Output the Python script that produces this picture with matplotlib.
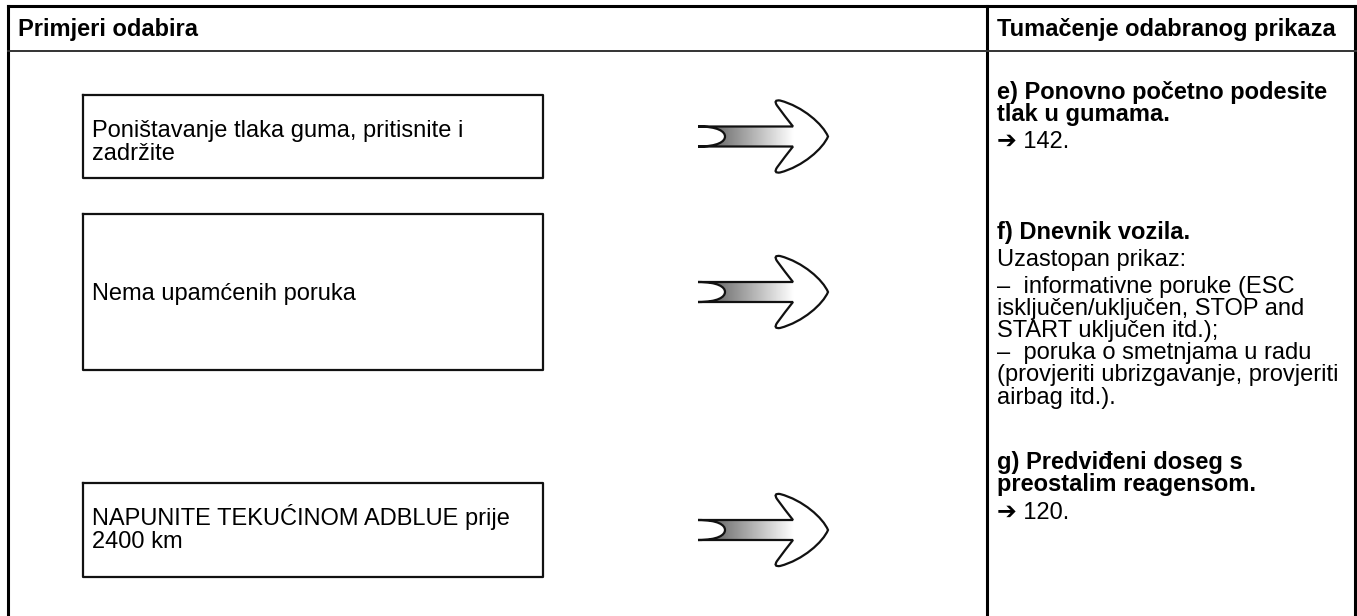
import numpy as np
import matplotlib
matplotlib.use('Agg')
from matplotlib import pyplot as plt
from matplotlib.path import Path
from matplotlib.patches import PathPatch

# tekstovi tablice
headers = ['Primjeri odabira', 'Tumačenje odabranog prikaza']

examples = [
    ['Poništavanje tlaka guma, pritisnite i', 'zadržite'],
    ['Nema upamćenih poruka'],
    ['NAPUNITE TEKUĆINOM ADBLUE prije', '2400 km'],
]

notes = [
    ('e) Ponovno početno podesite', True),
    ('tlak u gumama.', True),
    ('➔ 142.', False),
    ('f) Dnevnik vozila.', True),
    ('Uzastopan prikaz:', False),
    ('–  informativne poruke (ESC', False),
    ('isključen/uključen, STOP and', False),
    ('START uključen itd.);', False),
    ('–  poruka o smetnjama u radu', False),
    ('(provjeriti ubrizgavanje, provjeriti', False),
    ('airbag itd.).', False),
    ('g) Predviđeni doseg s', True),
    ('preostalim reagensom.', True),
    ('➔ 120.', False),
]

# mise en page (pixels)
W, H = 1357, 616
note_y = [92, 114, 141, 232, 259, 286, 308, 330, 352, 374, 397, 462, 484, 512]
boxes = [(95, 178), (214, 370), (483, 577)]
box_lines_y = [[130, 153], [293], [518, 541]]
FONT = ['Liberation Sans', 'DejaVu Sans']
FS = 17

fig = plt.figure(figsize=(W / 100, H / 100), dpi=100)
ax = fig.add_axes([0, 0, 1, 1])
ax.set_axis_off()


def arrow(ax, cx, cy):
    M, L, C3, C4 = Path.MOVETO, Path.LINETO, Path.CURVE3, Path.CURVE4
    pts = [
        (M, (-65, -10)), (L, (30, -10)),
        (C3, (22, -20)), (C3, (14, -31)),
        (C3, (10, -37)), (C3, (17, -36)),
        (C4, (40, -30)), (C4, (60, -12)), (C4, (65, 0)),
        (C4, (60, 12)), (C4, (40, 30)), (C4, (17, 36)),
        (C3, (10, 37)), (C3, (14, 31)),
        (C3, (22, 20)), (C3, (30, 10)),
        (L, (-65, 10)),
        (C4, (-45, 10)), (C4, (-38, 5)), (C4, (-38, 0)),
        (C4, (-38, -5)), (C4, (-45, -10)), (C4, (-65, -10)),
        (Path.CLOSEPOLY, (-65, -10)),
    ]
    codes = [p[0] for p in pts]
    verts = [(cx + p[1][0], cy + p[1][1]) for p in pts]
    outline = Path(verts, codes)
    ax.add_patch(PathPatch(outline, facecolor='white', edgecolor='none', zorder=2))

    sh = [
        (M, (-65, -10)), (L, (31, -10)), (L, (31, 10)), (L, (-65, 10)),
        (C4, (-45, 10)), (C4, (-38, 5)), (C4, (-38, 0)),
        (C4, (-38, -5)), (C4, (-45, -10)), (C4, (-65, -10)),
        (Path.CLOSEPOLY, (-65, -10)),
    ]
    shaft = PathPatch(Path([(cx + p[1][0], cy + p[1][1]) for p in sh], [p[0] for p in sh]),
                      facecolor='none', edgecolor='none')
    ax.add_patch(shaft)
    grad = np.linspace(0.3, 1.0, 200).reshape(1, -1)
    im = ax.imshow(grad, cmap='gray', vmin=0, vmax=1, aspect='auto',
                   extent=(cx - 65, cx + 31, cy + 10, cy - 10), zorder=3)
    im.set_clip_path(shaft)
    ax.add_patch(PathPatch(outline, facecolor='none', edgecolor='#111111', lw=1.6, zorder=4))


# cadre
ax.plot([8, W], [6, 6], color='black', lw=2.2)
ax.plot([8, 8], [6, H], color='black', lw=2.2)
ax.plot([W - 2, W - 2], [6, H], color='black', lw=2.2)
ax.plot([987, 987], [6, H], color='black', lw=2.2)
ax.plot([8, W], [51, 51], color='#333333', lw=1.4)

ax.text(18, 36, headers[0], fontsize=FS, fontweight='bold', family=FONT, va='baseline')
ax.text(997, 36, headers[1], fontsize=FS, fontweight='bold', family=FONT, va='baseline')

for (y0, y1), lines, ys in zip(boxes, examples, box_lines_y):
    ax.plot([83, 543, 543, 83, 83], [y0, y0, y1, y1, y0], color='#111111', lw=1.6)
    for t, y in zip(lines, ys):
        ax.text(92, y + 7, t, fontsize=FS, family=FONT, va='baseline')
    arrow(ax, 763, (y0 + y1) / 2)

for (t, b), y in zip(notes, note_y):
    ax.text(997, y + 7, t, fontsize=FS, family=FONT, va='baseline',
            fontweight='bold' if b else 'normal')

ax.set_xlim(0, W)
ax.set_ylim(H, 0)
fig.savefig('out.png', dpi=100, facecolor='white')
